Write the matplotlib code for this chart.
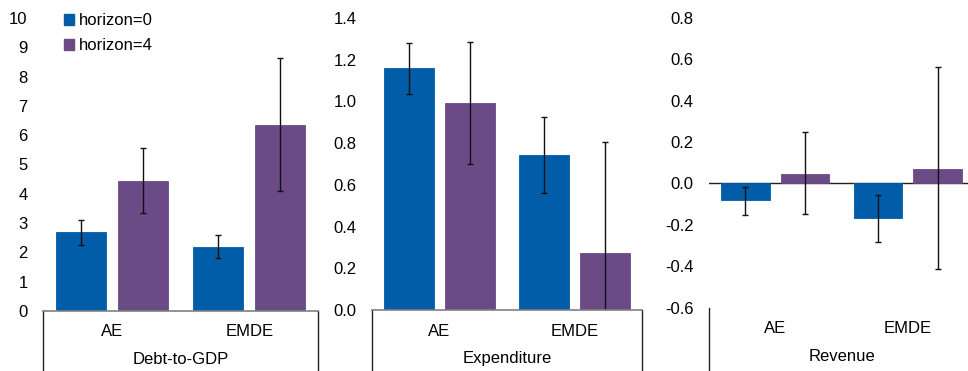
import numpy as np
import matplotlib
matplotlib.use("Agg")
import matplotlib.pyplot as plt
from matplotlib.lines import Line2D
from matplotlib.patches import Patch

plt.rcParams['font.family'] = ['Liberation Sans', 'DejaVu Sans']
plt.rcParams['axes.unicode_minus'] = False

categories = ["AE", "EMDE"]
series = ["horizon=0", "horizon=4"]
colors = ["#015da8", "#6a4b86"]

# panel name -> values / lower bound / upper bound for each series
panels = ["Debt-to-GDP", "Expenditure", "Revenue"]

debt_h0 = [2.68, 2.19]
debt_h0_lo = [2.25, 1.82]
debt_h0_hi = [3.09, 2.60]
debt_h4 = [4.44, 6.36]
debt_h4_lo = [3.35, 4.11]
debt_h4_hi = [5.58, 8.62]

exp_h0 = [1.159, 0.742]
exp_h0_lo = [1.038, 0.559]
exp_h0_hi = [1.278, 0.924]
exp_h4 = [0.994, 0.273]
exp_h4_lo = [0.700, -0.259]
exp_h4_hi = [1.285, 0.805]

rev_h0 = [-0.082, -0.168]
rev_h0_lo = [-0.154, -0.283]
rev_h0_hi = [-0.016, -0.058]
rev_h4 = [0.047, 0.071]
rev_h4_lo = [-0.150, -0.414]
rev_h4_hi = [0.247, 0.565]

data = [
    [(debt_h0, debt_h0_lo, debt_h0_hi), (debt_h4, debt_h4_lo, debt_h4_hi)],
    [(exp_h0, exp_h0_lo, exp_h0_hi), (exp_h4, exp_h4_lo, exp_h4_hi)],
    [(rev_h0, rev_h0_lo, rev_h0_hi), (rev_h4, rev_h4_lo, rev_h4_hi)],
]
ylims = [(0, 10), (0, 1.4), (-0.6, 0.8)]
ysteps = [1, 0.2, 0.2]
yfmts = ["{:.0f}", "{:.1f}", "{:.1f}"]

W, H = 968, 371
fs = 12
fig = plt.figure(figsize=(W / 100, H / 100), dpi=100)

# axes boxes in pixels: left, right, top, bottom
boxes = [(43, 318, 18, 311), (372, 642, 18, 310), (709, 974, 18, 307.5)]

x = np.arange(len(categories))
bw = 0.365
off = 0.225

for i, (l, r, t, b) in enumerate(boxes):
    ax = fig.add_axes([l / W, (H - b) / H, (r - l) / W, (b - t) / H])
    for j, (vals, lo, hi) in enumerate(data[i]):
        vals = np.array(vals)
        err = [vals - np.array(lo), np.array(hi) - vals]
        xs = x + (off if j else -off)
        ax.bar(xs, vals, bw, color=colors[j], edgecolor=colors[j],
               linewidth=0.6, zorder=2)
        ax.errorbar(xs, vals, yerr=err, fmt="none", ecolor="#111111",
                    elinewidth=1, capsize=2.5, capthick=1, zorder=3)
    ax.set_xlim(-0.5, 1.5)
    ax.set_ylim(*ylims[i])
    ticks = np.arange(ylims[i][0], ylims[i][1] + 1e-9, ysteps[i])
    ax.set_yticks(ticks)
    ax.set_yticklabels([yfmts[i].format(v + 0.0) for v in ticks])
    ax.tick_params(axis="y", length=0, pad=11, labelsize=fs)
    ax.set_xticks([])
    for s in ["top", "right", "left", "bottom"]:
        ax.spines[s].set_visible(False)

    # category box under the plot
    depth = 90  # pixels below the axis
    y_lo = -depth / (b - t)
    ax.add_line(Line2D([0, 0], [0, y_lo], transform=ax.transAxes,
                       color="#222222", lw=1, clip_on=False))
    ax.add_line(Line2D([1, 1], [0, y_lo], transform=ax.transAxes,
                       color="#222222", lw=1, clip_on=False))
    if i < 2:
        ax.add_line(Line2D([0, 1], [0, 0], transform=ax.transAxes,
                           color="#808080", lw=1.2, clip_on=False, zorder=4))
    else:
        ax.axhline(0, color="#222222", lw=1, zorder=1)

    for k, c in enumerate(categories):
        ax.annotate(c, xy=(x[k], 0), xycoords=("data", "axes fraction"),
                    xytext=(0, -21), textcoords="offset pixels",
                    ha="center", va="center", fontsize=fs)
    ax.annotate(panels[i], xy=(0.5, 0), xycoords="axes fraction",
                xytext=(0, -49), textcoords="offset pixels",
                ha="center", va="center", fontsize=fs)

    if i == 0:
        handles = [Patch(facecolor=c, edgecolor=c) for c in colors]
        ax.legend(handles, series, loc="upper left",
                  bbox_to_anchor=(56 / W, 1 - 5 / H),
                  bbox_transform=fig.transFigure, frameon=False,
                  handlelength=0.6, handleheight=0.6, handletextpad=0.3,
                  labelspacing=0.6, fontsize=fs, borderpad=0)

fig.savefig("out.png", dpi=100)
